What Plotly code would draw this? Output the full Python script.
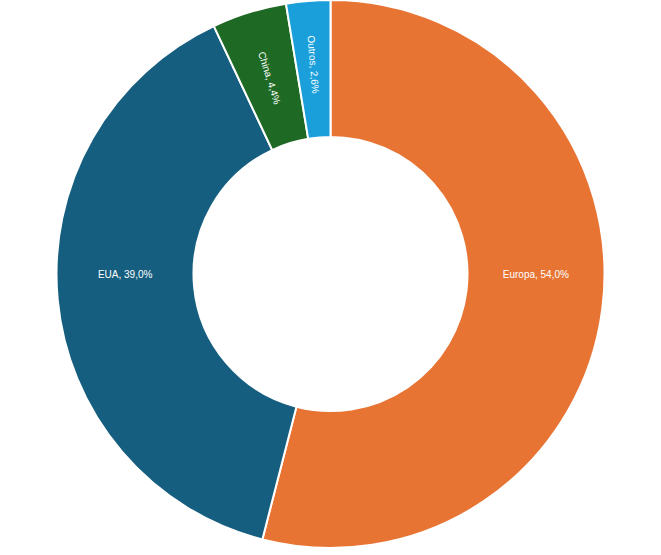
import plotly.graph_objects as go

labels = ["Europa", "EUA", "China", "Outros"]
values = [54.0, 39.0, 4.4, 2.6]
colors = ["#E87434", "#165E80", "#1E6A25", "#1A9FDB"]

fig = go.Figure(go.Pie(
    labels=labels,
    values=values,
    hole=0.5,
    sort=False,
    direction="clockwise",
    rotation=0,
    marker=dict(colors=colors, line=dict(color="white", width=2)),
    texttemplate="%{label}, %{percent:.1%}",
    textposition="inside",
    insidetextorientation="radial",
    textfont=dict(color="white", size=10, family="Liberation Sans"),
    showlegend=False,
    hoverinfo="label+percent",
))

fig.update_layout(
    width=661, height=555,
    margin=dict(t=0, b=7, l=0, r=0),
    separators=",.",
    paper_bgcolor="white",
)

# drop the default page margin so the chart sits at the window origin
fig.write_html("out.html", config={"displayModeBar": False},
               post_script="document.body.style.margin='0';")
